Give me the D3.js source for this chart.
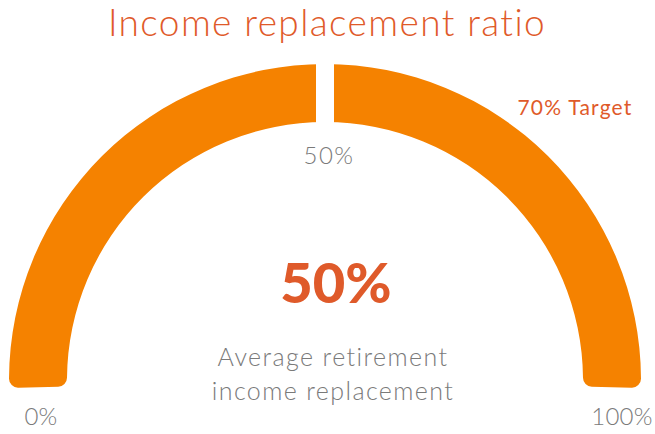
<!DOCTYPE html>
<meta charset="utf-8">
<title>Income replacement ratio</title>
<style>
body { margin: 0; background: #fff; }
svg { display: block; font-family: Lato, "Open Sans", sans-serif; }
</style>
<svg width="655" height="434"></svg>
<script src="https://cdn.jsdelivr.net/npm/d3@7"></script>
<script>
  // gauge data
  var tickValues = [0, 50, 100]
  var tickLabels = ["0%", "50%", "100%"]
  var averageValue = 50
  var targetValue = 70
  var title = "Income replacement ratio"
  var caption = ["Average retirement", "income replacement"]

  var svg = d3.select("svg"),
    width = +svg.attr("width"),
    height = +svg.attr("height"),
    cx = 325,
    cy = 380,
    outerR = 316,
    innerR = 258

  var orange = "#f58200",
    red = "#df5a2a",
    grey = "#7a7a7a"

  // value -> angle, slightly past horizontal at both ends
  var angle = d3.scaleLinear().domain([0, 100]).range([-Math.PI / 2 - 0.025, Math.PI / 2 + 0.025])

  var arc = d3.arc().innerRadius(innerR).outerRadius(outerR).cornerRadius(9)

  var g = svg.append("g").attr("transform", "translate(" + cx + "," + cy + ")")

  g.append("path")
    .attr("fill", orange)
    .attr("d", arc({ startAngle: angle(0), endAngle: angle(100) }))

  // white notch at the midpoint
  var a = angle(averageValue)
  g.append("line")
    .attr("x1", Math.sin(a) * (innerR - 4)).attr("y1", -Math.cos(a) * (innerR - 4))
    .attr("x2", Math.sin(a) * (outerR + 4)).attr("y2", -Math.cos(a) * (outerR + 4))
    .attr("stroke", "#fff").attr("stroke-width", 18)

  svg.append("text")
    .attr("x", 327).attr("y", 36)
    .attr("text-anchor", "middle")
    .attr("font-size", 37).attr("font-weight", 300)
    .attr("letter-spacing", 1.4)
    .attr("fill", red)
    .text(title)

  // tick labels: ends below the arc, middle one inside
  var tickPos = [
    { x: cx - 284, y: 425 },
    { x: cx + 4, y: 164 },
    { x: cx + 297, y: 425 }
  ]
  svg.selectAll("text.tick")
    .data(tickValues)
    .enter().append("text")
      .attr("class", "tick")
      .attr("x", function(d, i) { return tickPos[i].x })
      .attr("y", function(d, i) { return tickPos[i].y })
      .attr("text-anchor", "middle")
      .attr("font-size", 24)
      .attr("font-weight", 300)
      .attr("letter-spacing", function(d, i) { return i == 1 ? 1.5 : 0.3 })
      .attr("fill", grey)
      .text(function(d, i) { return tickLabels[i] })

  svg.append("text")
    .attr("x", 575).attr("y", 115)
    .attr("text-anchor", "middle")
    .attr("font-size", 21)
    .attr("letter-spacing", 1.2)
    .attr("fill", red)
    .text(targetValue + "% Target")

  svg.append("text")
    .attr("x", 336).attr("y", 303)
    .attr("text-anchor", "middle")
    .attr("font-size", 56).attr("font-weight", 900)
    .attr("fill", red)
    .text(averageValue + "%")

  svg.selectAll("text.cap")
    .data(caption)
    .enter().append("text")
      .attr("class", "cap")
      .attr("x", 333)
      .attr("y", function(d, i) { return 366 + i * 34 })
      .attr("text-anchor", "middle")
      .attr("font-size", 25).attr("font-weight", 300)
      .attr("letter-spacing", 1.4)
      .attr("fill", grey)
      .text(function(d) { return d })
</script>
